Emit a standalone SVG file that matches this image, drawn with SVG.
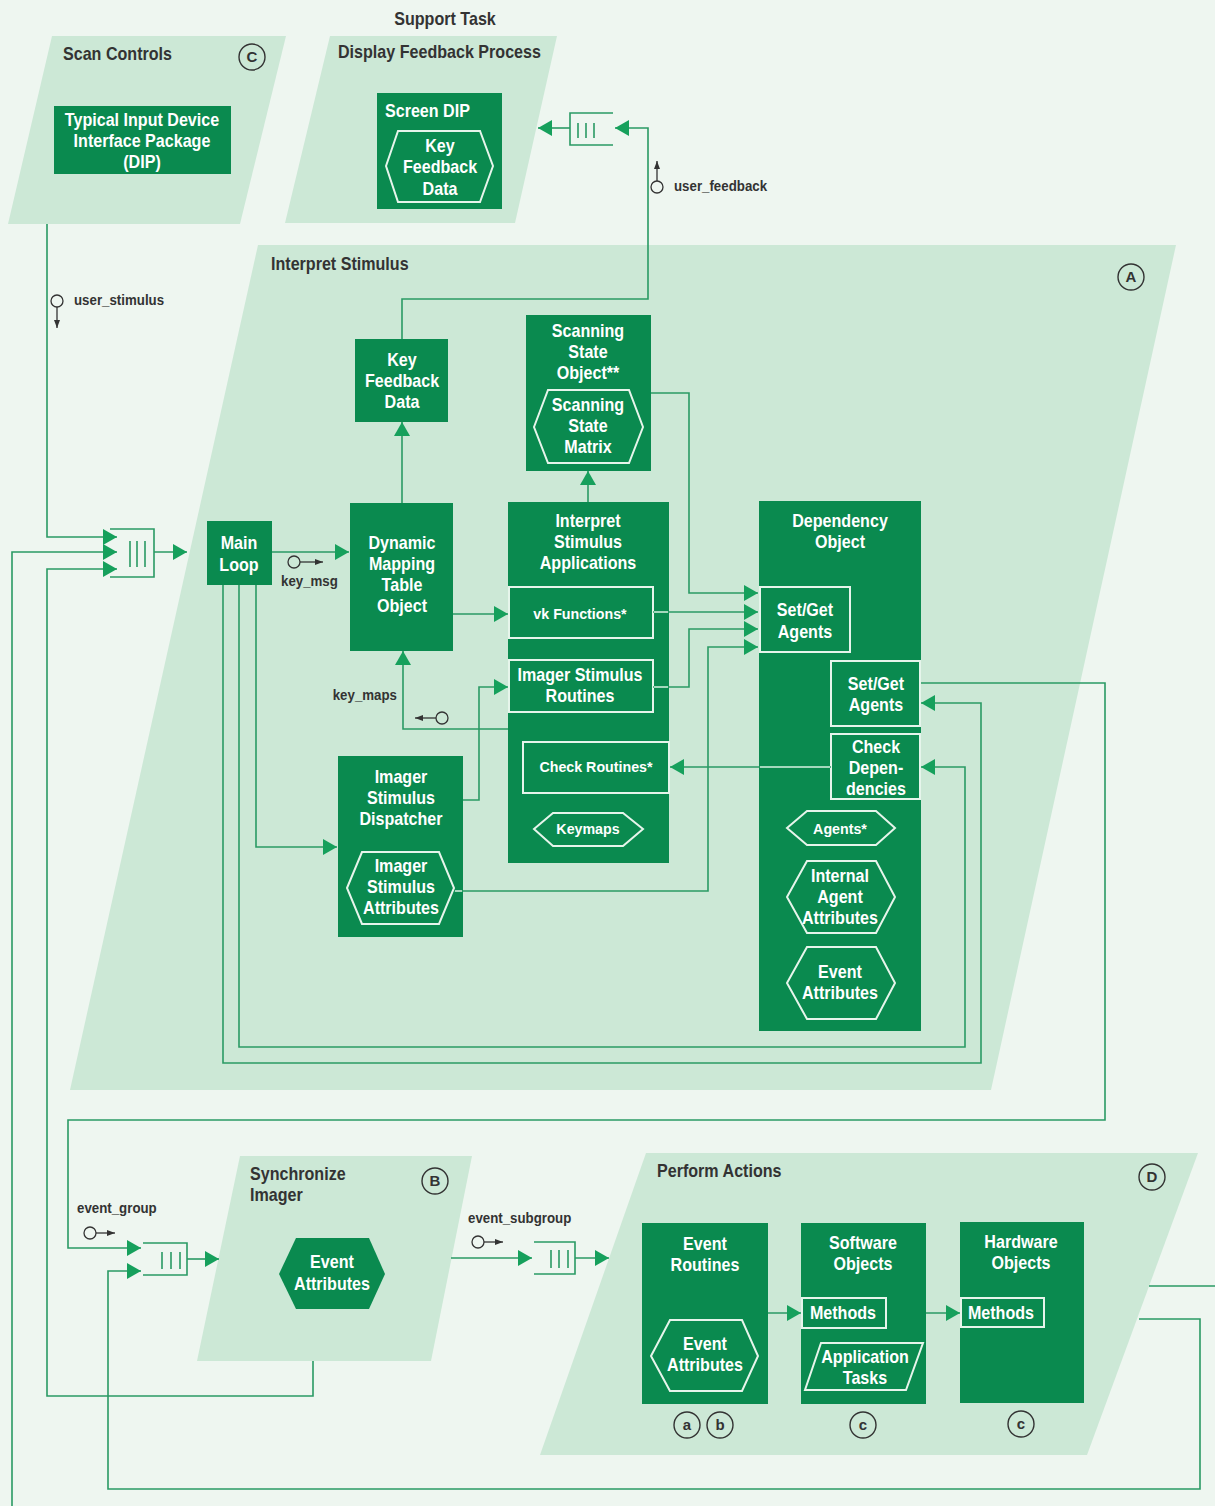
<svg xmlns="http://www.w3.org/2000/svg" width="1215" height="1506" viewBox="0 0 1215 1506">
<defs>
<style>
.bg{fill:#eef6f0}
.panel{fill:#cce8d6}
.box{fill:#0a8a4f}
.ol{fill:none;stroke:#e6f5eb;stroke-width:2}
.t,.tl,.ts,.pt,.lbl{font-family:"Liberation Sans",Arial,sans-serif;font-weight:bold;transform-box:fill-box}
.t{font-size:17.5px;fill:#ffffff;text-anchor:middle;transform-origin:center;transform:scaleX(0.92)}
.tl{font-size:17.5px;fill:#ffffff;text-anchor:start;transform-origin:left center;transform:scaleX(0.92)}
.ts{font-size:15px;fill:#ffffff;text-anchor:middle;transform-origin:center;transform:scaleX(0.95)}
.pt{font-size:17.5px;fill:#333333;transform-origin:left center;transform:scaleX(0.92)}
.ptc{text-anchor:middle;transform-origin:center}
.lbl{font-size:14px;fill:#333333;transform-origin:left center;transform:scaleX(0.95)}
.lble{text-anchor:end;transform-origin:right center}
.cl{font-family:"Liberation Sans",Arial,sans-serif;font-weight:bold;font-size:15px;fill:#333333;text-anchor:middle}
.circ{fill:none;stroke:#333333;stroke-width:1.4}
.ln{fill:none;stroke:#2a9a64;stroke-width:1.6}
.lt{fill:none;stroke:#cfeedd;stroke-width:1.6}
.q{fill:none;stroke:#2a9a64;stroke-width:1.6}
.sm{fill:none;stroke:#333333;stroke-width:1.3}
</style>
<marker id="ah" viewBox="0 0 14 16" refX="14" refY="8" markerWidth="14" markerHeight="16" orient="auto" markerUnits="userSpaceOnUse">
<path d="M0,0 L14,8 L0,16 z" fill="#16a05c"/>
</marker>
<marker id="sa" viewBox="0 0 8 6" refX="8" refY="3" markerWidth="8" markerHeight="6" orient="auto" markerUnits="userSpaceOnUse">
<path d="M0,0 L8,3 L0,6 z" fill="#333333"/>
</marker>
</defs>
<rect class="bg" x="0" y="0" width="1215" height="1506"/>

<g id="panels">
<polygon class="panel" points="52,36 286,36 240,224 8,224"/>
<polygon class="panel" points="330,36 557,36 515,223 285,223"/>
<polygon class="panel" points="258,245 1176,245 991,1090 70,1090"/>
<polygon class="panel" points="240,1156 472,1156 431,1361 197,1361"/>
<polygon class="panel" points="646,1153 1198,1153 1087,1455 540,1455"/>
<text class="pt" x="63" y="60">Scan Controls</text>
<circle class="circ" cx="252" cy="57" r="13"/><text class="cl" x="252" y="62">C</text>
<text class="pt ptc" x="445" y="25">Support Task</text>
<text class="pt" x="338" y="58">Display Feedback Process</text>
<text class="pt" x="271" y="270">Interpret Stimulus</text>
<circle class="circ" cx="1131" cy="277" r="13"/><text class="cl" x="1131" y="282">A</text>
<text class="pt" x="250" y="1180">Synchronize</text>
<text class="pt" x="250" y="1201">Imager</text>
<circle class="circ" cx="435" cy="1181" r="13"/><text class="cl" x="435" y="1186">B</text>
<text class="pt" x="657" y="1177">Perform Actions</text>
<circle class="circ" cx="1152" cy="1177" r="13"/><text class="cl" x="1152" y="1182">D</text>
</g>

<g id="dip">
<rect class="box" x="54" y="106" width="177" height="68"/>
<text class="t" x="142" y="126">Typical Input Device</text>
<text class="t" x="142" y="147">Interface Package</text>
<text class="t" x="142" y="168">(DIP)</text>
</g>

<g id="screen-dip">
<rect class="box" x="377" y="93" width="125" height="116"/>
<text class="tl" x="385" y="117">Screen DIP</text>
<polygon class="ol" points="386,166 398,131 480,131 493,166 480,202 398,202"/>
<text class="t" x="440" y="152">Key</text>
<text class="t" x="440" y="173">Feedback</text>
<text class="t" x="440" y="195">Data</text>
</g>

<g id="main-loop">
<rect class="box" x="207" y="521" width="65" height="64"/>
<text class="t" x="239" y="549">Main</text>
<text class="t" x="239" y="571">Loop</text>
</g>

<g id="key-feedback-data">
<rect class="box" x="355" y="339" width="93" height="83"/>
<text class="t" x="402" y="366">Key</text>
<text class="t" x="402" y="387">Feedback</text>
<text class="t" x="402" y="408">Data</text>
</g>

<g id="dynamic-mapping">
<rect class="box" x="350" y="503" width="103" height="148"/>
<text class="t" x="402" y="549">Dynamic</text>
<text class="t" x="402" y="570">Mapping</text>
<text class="t" x="402" y="591">Table</text>
<text class="t" x="402" y="612">Object</text>
</g>

<g id="scanning-state">
<rect class="box" x="526" y="315" width="125" height="156"/>
<text class="t" x="588" y="337">Scanning</text>
<text class="t" x="588" y="358">State</text>
<text class="t" x="588" y="379">Object**</text>
<polygon class="ol" points="534,427 548,390 629,390 643,427 629,463 548,463"/>
<text class="t" x="588" y="411">Scanning</text>
<text class="t" x="588" y="432">State</text>
<text class="t" x="588" y="453">Matrix</text>
</g>

<g id="interpret-apps">
<rect class="box" x="508" y="502" width="161" height="361"/>
<text class="t" x="588" y="527">Interpret</text>
<text class="t" x="588" y="548">Stimulus</text>
<text class="t" x="588" y="569">Applications</text>
<rect class="ol" x="509" y="587" width="144" height="51"/>
<text class="ts" x="580" y="619">vk Functions*</text>
<rect class="ol" x="509" y="660" width="144" height="52"/>
<text class="t" x="580" y="681">Imager Stimulus</text>
<text class="t" x="580" y="702">Routines</text>
<rect class="ol" x="523" y="742" width="146" height="51"/>
<text class="ts" x="596" y="772">Check Routines*</text>
<polygon class="ol" points="534,829 553,813 623,813 643,829 623,846 553,846"/>
<text class="ts" x="588" y="834">Keymaps</text>
</g>

<g id="dispatcher">
<rect class="box" x="338" y="756" width="125" height="181"/>
<text class="t" x="401" y="783">Imager</text>
<text class="t" x="401" y="804">Stimulus</text>
<text class="t" x="401" y="825">Dispatcher</text>
<polygon class="ol" points="347,888 362,852 439,852 454,888 439,924 362,924"/>
<text class="t" x="401" y="872">Imager</text>
<text class="t" x="401" y="893">Stimulus</text>
<text class="t" x="401" y="914">Attributes</text>
</g>

<g id="dependency">
<rect class="box" x="759" y="501" width="162" height="530"/>
<text class="t" x="840" y="527">Dependency</text>
<text class="t" x="840" y="548">Object</text>
<rect class="ol" x="760" y="587" width="90" height="65"/>
<text class="t" x="805" y="616">Set/Get</text>
<text class="t" x="805" y="638">Agents</text>
<rect class="ol" x="831" y="661" width="89" height="65"/>
<text class="t" x="876" y="690">Set/Get</text>
<text class="t" x="876" y="711">Agents</text>
<rect class="ol" x="831" y="734" width="89" height="65"/>
<text class="t" x="876" y="753">Check</text>
<text class="t" x="876" y="774">Depen-</text>
<text class="t" x="876" y="795">dencies</text>
<polygon class="ol" points="787,828 807,811 876,811 895,828 876,845 807,845"/>
<text class="ts" x="840" y="834">Agents*</text>
<polygon class="ol" points="787,897 807,861 876,861 895,897 876,933 807,933"/>
<text class="t" x="840" y="882">Internal</text>
<text class="t" x="840" y="903">Agent</text>
<text class="t" x="840" y="924">Attributes</text>
<polygon class="ol" points="787,983 807,947 876,947 895,983 876,1019 807,1019"/>
<text class="t" x="840" y="978">Event</text>
<text class="t" x="840" y="999">Attributes</text>
</g>

<g id="sync-event-attributes">
<polygon class="box" points="279,1274 296,1238 369,1238 385,1274 369,1309 296,1309"/>
<text class="t" x="332" y="1268">Event</text>
<text class="t" x="332" y="1290">Attributes</text>
</g>

<g id="event-routines">
<rect class="box" x="642" y="1223" width="126" height="181"/>
<text class="t" x="705" y="1250">Event</text>
<text class="t" x="705" y="1271">Routines</text>
<polygon class="ol" points="651,1356 670,1320 742,1320 758,1356 742,1391 670,1391"/>
<text class="t" x="705" y="1350">Event</text>
<text class="t" x="705" y="1371">Attributes</text>
<circle class="circ" cx="687" cy="1425" r="13"/><text class="cl" x="687" y="1430">a</text>
<circle class="circ" cx="720" cy="1425" r="13"/><text class="cl" x="720" y="1430">b</text>
</g>

<g id="software-objects">
<rect class="box" x="801" y="1223" width="125" height="181"/>
<text class="t" x="863" y="1249">Software</text>
<text class="t" x="863" y="1270">Objects</text>
<rect class="ol" x="802" y="1298" width="84" height="30"/>
<text class="t" x="843" y="1319">Methods</text>
<polygon class="ol" points="821,1343 923,1343 906,1390 805,1390"/>
<text class="t" x="865" y="1363">Application</text>
<text class="t" x="865" y="1384">Tasks</text>
<circle class="circ" cx="863" cy="1425" r="13"/><text class="cl" x="863" y="1430">c</text>
</g>

<g id="hardware-objects">
<rect class="box" x="960" y="1222" width="124" height="181"/>
<text class="t" x="1021" y="1248">Hardware</text>
<text class="t" x="1021" y="1269">Objects</text>
<rect class="ol" x="961" y="1298" width="83" height="29"/>
<text class="t" x="1001" y="1319">Methods</text>
<circle class="circ" cx="1021" cy="1424" r="13"/><text class="cl" x="1021" y="1429">c</text>
</g>

<g id="queues">
<path class="q" d="M110,529 H154 V577 H110 M130,541 V567 M137,541 V567 M145,541 V567"/>
<path class="q" d="M613,113 H570 V145 H613 M578,123 V138 M586,123 V138 M594,123 V138"/>
<path class="q" d="M143,1243 H187 V1275 H143 M162,1252 V1269 M171,1252 V1269 M180,1252 V1269"/>
<path class="q" d="M534,1242 H575 V1274 H534 M551,1250 V1268 M559,1250 V1268 M568,1250 V1268"/>
</g>

<g id="connectors">
<path class="ln" d="M47,224 V537 H117" marker-end="url(#ah)"/>
<path class="ln" d="M12,1506 V552 H117" marker-end="url(#ah)"/>
<path class="ln" d="M313,1361 V1396 H47 V569 H117" marker-end="url(#ah)"/>
<path class="ln" d="M154,552 H187" marker-end="url(#ah)"/>
<path class="ln" d="M272,552 H349" marker-end="url(#ah)"/>
<path class="ln" d="M453,614 H508" marker-end="url(#ah)"/>
<path class="ln" d="M402,503 V422" marker-end="url(#ah)"/>
<path class="ln" d="M402,339 V299 H648 V128 H615" marker-end="url(#ah)"/>
<path class="ln" d="M570,128 H538" marker-end="url(#ah)"/>
<path class="ln" d="M588,502 V471" marker-end="url(#ah)"/>
<path class="ln" d="M651,393 H689 V593 H758" marker-end="url(#ah)"/>
<path class="ln" d="M653,612 H758" marker-end="url(#ah)"/>
<path class="ln" d="M653,687 H689 V629 H758" marker-end="url(#ah)"/>
<path class="ln" d="M454,891 H708 V647 H758" marker-end="url(#ah)"/>
<path class="ln" d="M508,729 H403 V651" marker-end="url(#ah)"/>
<path class="ln" d="M463,800 H479 V687 H508" marker-end="url(#ah)"/>
<path class="ln" d="M223,585 V1063 H981 V703 H921" marker-end="url(#ah)"/>
<path class="ln" d="M239,585 V1047 H965 V767 H921" marker-end="url(#ah)"/>
<path class="ln" d="M256,585 V847 H337" marker-end="url(#ah)"/>
<path class="ln" d="M831,767 H670" marker-end="url(#ah)"/>
<path class="ln" d="M921,683 H1105 V1120 H68 V1248 H141" marker-end="url(#ah)"/>
<path class="ln" d="M1139,1319 H1200 V1489 H108 V1271 H141" marker-end="url(#ah)"/>
<path class="ln" d="M1149,1286 H1215"/>
<path class="ln" d="M187,1259 H219" marker-end="url(#ah)"/>
<path class="ln" d="M451,1258 H532" marker-end="url(#ah)"/>
<path class="ln" d="M575,1258 H609" marker-end="url(#ah)"/>
<path class="ln" d="M768,1313 H801" marker-end="url(#ah)"/>
<path class="ln" d="M926,1313 H960" marker-end="url(#ah)"/>
<path class="lt" d="M654,612 H668 M654,687 H668 M760,767 H830 M455,891 H462"/>
</g>

<g id="flow-labels">
<circle class="sm" cx="57" cy="301" r="6"/>
<path class="sm" d="M57,307 V328" marker-end="url(#sa)"/>
<text class="lbl" x="74" y="305">user_stimulus</text>
<circle class="sm" cx="657" cy="187" r="6"/>
<path class="sm" d="M657,181 V161" marker-end="url(#sa)"/>
<text class="lbl" x="674" y="191">user_feedback</text>
<circle class="sm" cx="294" cy="562" r="6"/>
<path class="sm" d="M300,562 H323" marker-end="url(#sa)"/>
<text class="lbl" x="281" y="586">key_msg</text>
<circle class="sm" cx="442" cy="718" r="6"/>
<path class="sm" d="M436,718 H415" marker-end="url(#sa)"/>
<text class="lbl lble" x="397" y="700">key_maps</text>
<circle class="sm" cx="90" cy="1233" r="6"/>
<path class="sm" d="M96,1233 H115" marker-end="url(#sa)"/>
<text class="lbl" x="77" y="1213">event_group</text>
<circle class="sm" cx="478" cy="1242" r="6"/>
<path class="sm" d="M484,1242 H503" marker-end="url(#sa)"/>
<text class="lbl" x="468" y="1223">event_subgroup</text>
</g>
</svg>
